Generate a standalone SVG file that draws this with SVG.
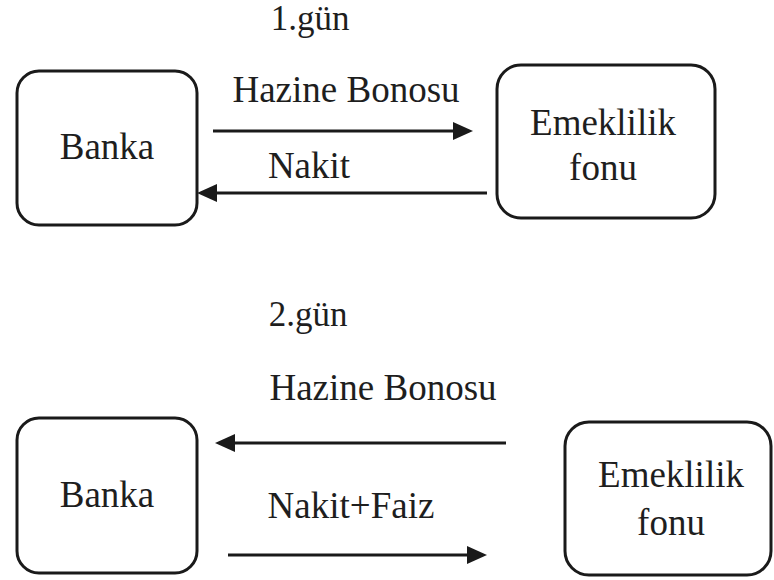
<svg xmlns="http://www.w3.org/2000/svg" width="774" height="580" viewBox="0 0 774 580">
<style>
.box{fill:#fff;stroke:#1a1a1a;stroke-width:3}
.t{font-family:"Liberation Serif","Times New Roman",serif;font-size:37px;fill:#1e1e1e;text-anchor:middle}
.h{font-size:35px}
.c{stroke:#1a1a1a;stroke-width:3;fill:none;marker-end:url(#ah)}
</style>
<defs>
<marker id="ah" markerWidth="20" markerHeight="20" viewBox="0 -10 20 20" refX="0" refY="0" orient="auto" markerUnits="userSpaceOnUse">
<path d="M0,-9 L20,0 L0,9 z" fill="#1a1a1a"/>
</marker>
</defs>
<rect width="774" height="580" fill="#fff"/>
<text class="t h" x="310" y="30">1.gün</text>
<text class="t h" x="308" y="326">2.gün</text>
<g id="banka1">
<rect class="box" x="17" y="71" width="180" height="154" rx="22"/>
<text class="t" x="107" y="159">Banka</text>
</g>
<g id="emeklilik1">
<rect class="box" x="497" y="65" width="218" height="153" rx="24"/>
<text class="t" x="603" y="135">Emeklilik</text>
<text class="t" x="603" y="180">fonu</text>
</g>
<g id="banka2">
<rect class="box" x="17" y="418" width="180" height="155" rx="22"/>
<text class="t" x="107" y="507">Banka</text>
</g>
<g id="emeklilik2">
<rect class="box" x="565" y="422" width="206" height="153" rx="24"/>
<text class="t" x="671" y="487">Emeklilik</text>
<text class="t" x="671" y="535">fonu</text>
</g>
<g id="connectors">
<line class="c" x1="213" y1="131" x2="453" y2="131"/>
<text class="t" x="346" y="102">Hazine Bonosu</text>
<line class="c" x1="487" y1="193" x2="217" y2="193"/>
<text class="t" x="309" y="178">Nakit</text>
<line class="c" x1="506" y1="443" x2="235" y2="443"/>
<text class="t" x="383" y="400">Hazine Bonosu</text>
<line class="c" x1="228" y1="555" x2="467" y2="555"/>
<text class="t" x="351" y="518">Nakit+Faiz</text>
</g>
</svg>
